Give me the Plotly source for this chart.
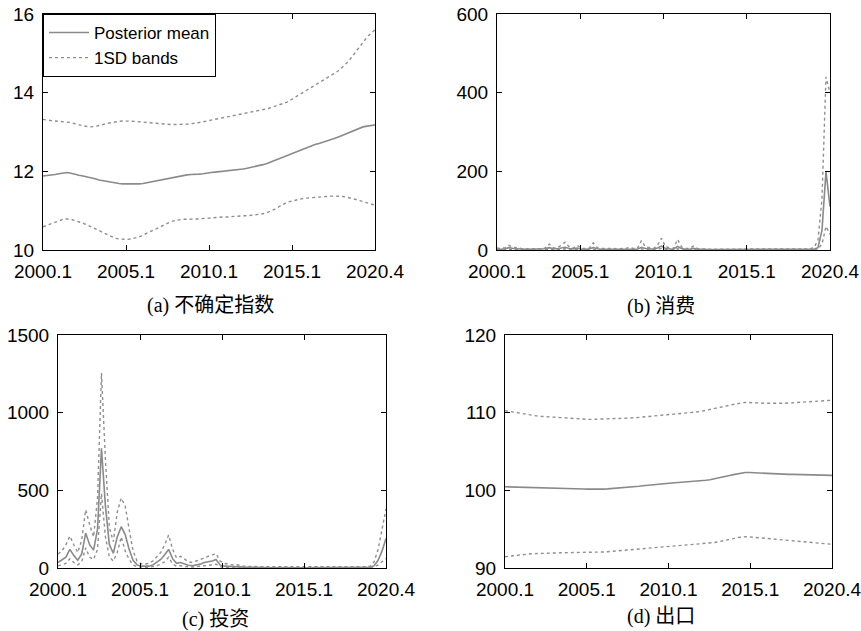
import plotly.graph_objects as go

W, H = 861, 631

quarter_index = list(range(84))
x_tick_labels = ["2000.1", "2005.1", "2010.1", "2015.1", "2020.4"]
legend_names = ["Posterior mean", "1SD bands"]
captions = ["(a) 不确定指数", "(b) 消费", "(c) 投资", "(d) 出口"]

# (a) uncertainty index
a_mean = [11.88, 11.89, 11.90, 11.92, 11.94, 11.96, 11.97,
          11.95, 11.92, 11.90, 11.88, 11.86, 11.84,
          11.81, 11.78, 11.76, 11.74, 11.72, 11.70,
          11.69, 11.68, 11.68, 11.67, 11.67, 11.68,
          11.69, 11.71, 11.73, 11.75, 11.77, 11.79,
          11.81, 11.83, 11.85, 11.88, 11.90, 11.91,
          11.92, 11.92, 11.93, 11.94, 11.96, 11.97,
          11.98, 11.99, 12.00, 12.01, 12.02, 12.03,
          12.04, 12.06, 12.08, 12.10, 12.12, 12.14,
          12.17, 12.20, 12.24, 12.28, 12.33, 12.37,
          12.41, 12.45, 12.49, 12.53, 12.57, 12.61,
          12.64, 12.68, 12.71, 12.74, 12.77, 12.80,
          12.84, 12.88, 12.92, 12.96, 13.01, 13.06,
          13.10, 13.13, 13.15, 13.17, 13.18]
a_upper = [13.32, 13.30, 13.29, 13.28, 13.27, 13.27, 13.26,
           13.24, 13.21, 13.18, 13.16, 13.14, 13.13,
           13.14, 13.16, 13.19, 13.22, 13.24, 13.26,
           13.27, 13.28, 13.28, 13.27, 13.27, 13.26,
           13.25, 13.24, 13.23, 13.22, 13.21, 13.20,
           13.19, 13.19, 13.19, 13.19, 13.19, 13.20,
           13.21, 13.22, 13.24, 13.26, 13.28, 13.30,
           13.32, 13.34, 13.36, 13.38, 13.40, 13.42,
           13.44, 13.46, 13.48, 13.50, 13.52, 13.54,
           13.56, 13.59, 13.62, 13.65, 13.68, 13.72,
           13.76, 13.82, 13.88, 13.95, 14.01, 14.08,
           14.14, 14.20, 14.26, 14.32, 14.38, 14.44,
           14.50, 14.57, 14.66, 14.76, 14.88, 15.02,
           15.16, 15.29, 15.41, 15.51, 15.60]
a_lower = [10.59, 10.63, 10.68, 10.72, 10.76, 10.78, 10.79,
           10.78, 10.75, 10.72, 10.68, 10.64, 10.59,
           10.54, 10.48, 10.43, 10.38, 10.33, 10.30,
           10.28, 10.27, 10.27, 10.28, 10.30, 10.33,
           10.38, 10.43, 10.48, 10.53, 10.58, 10.63,
           10.68, 10.72, 10.75, 10.77, 10.78, 10.78,
           10.78, 10.79, 10.79, 10.80, 10.81, 10.82,
           10.83, 10.84, 10.84, 10.84, 10.85, 10.85,
           10.86, 10.87, 10.87, 10.88, 10.89, 10.90,
           10.92, 10.95, 10.99, 11.04, 11.10, 11.16,
           11.21, 11.24, 11.27, 11.29, 11.31, 11.32,
           11.33, 11.34, 11.35, 11.36, 11.37, 11.37,
           11.37, 11.37, 11.36, 11.34, 11.32, 11.29,
           11.26, 11.23, 11.20, 11.17, 11.14]

# (b) consumption
b_mean = [3, 2, 3, 6, 4, 3, 2, 2, 2, 2, 2, 2,
          3, 6, 3, 3, 5, 7, 4, 3, 5, 2, 2, 3,
          6, 3, 2, 2, 3, 2, 2, 2, 2, 3, 2, 2,
          7, 4, 3, 2, 5, 10, 4, 3, 2, 9, 4, 2,
          2, 4, 2, 2, 1, 1, 1, 1, 1, 1, 1, 1,
          1, 1, 1, 1, 1, 1, 1, 1, 1, 1, 1, 1,
          1, 1, 1, 1, 1, 1, 1, 2, 6, 50, 200, 110]
b_upper = [5, 4, 6, 12, 7, 5, 4, 3, 3, 3, 3, 3,
           5, 15, 6, 5, 12, 20, 8, 5, 12, 4, 4, 5,
           18, 6, 4, 4, 5, 4, 3, 3, 4, 6, 4, 4,
           24, 8, 5, 4, 12, 30, 8, 5, 4, 27, 8, 4,
           4, 10, 4, 3, 2, 2, 2, 2, 2, 2, 2, 2,
           2, 2, 2, 2, 2, 2, 2, 2, 2, 2, 2, 2,
           2, 2, 2, 2, 2, 2, 3, 6, 25, 130, 440, 400]
b_lower = [1, 1, 1, 2, 1, 1, 1, 1, 1, 1, 1, 1,
           1, 2, 1, 1, 2, 3, 1, 1, 2, 1, 1, 1,
           2, 1, 1, 1, 1, 1, 1, 1, 1, 1, 1, 1,
           3, 1, 1, 1, 2, 4, 1, 1, 1, 3, 1, 1,
           1, 1, 1, 1, 0, 0, 0, 0, 0, 0, 0, 0,
           0, 0, 0, 0, 0, 0, 0, 0, 0, 0, 0, 0,
           0, 0, 0, 0, 0, 0, 0, 1, 2, 15, 60, 40]

# (c) investment
c_mean = [35, 50, 70, 120, 80, 50, 90, 225, 150, 115, 250, 770,
          400, 150, 95, 200, 266, 215, 120, 50, 20, 12, 10, 12,
          20, 35, 55, 85, 120, 60, 30, 35, 25, 18, 15, 20,
          25, 35, 40, 45, 55, 20, 12, 10, 8, 10, 6, 5,
          4, 5, 4, 3, 3, 3, 2, 2, 3, 2, 2, 2,
          3, 2, 2, 2, 3, 2, 2, 2, 2, 2, 2, 2,
          2, 2, 2, 2, 2, 2, 3, 5, 15, 50, 110, 190]
c_upper = [90, 110, 150, 205, 150, 100, 180, 375, 280, 200, 450, 1255,
           700, 260, 170, 360, 450, 400, 250, 110, 45, 28, 25, 30,
           45, 70, 100, 150, 212, 120, 65, 75, 55, 40, 35, 45,
           55, 70, 80, 85, 92, 45, 30, 25, 20, 22, 15, 12,
           10, 12, 10, 8, 8, 8, 6, 6, 8, 6, 6, 6,
           8, 6, 6, 6, 7, 6, 6, 6, 6, 6, 6, 6,
           6, 6, 6, 6, 6, 6, 8, 12, 40, 120, 250, 380]
c_lower = [15, 20, 30, 60, 35, 20, 40, 130, 70, 55, 120, 480,
           200, 70, 45, 100, 200, 110, 55, 20, 8, 5, 4, 5,
           8, 15, 25, 40, 70, 25, 12, 15, 10, 7, 6, 8,
           10, 15, 18, 20, 25, 8, 5, 4, 3, 4, 2, 2,
           1, 1, 1, 1, 1, 1, 1, 1, 1, 1, 1, 1,
           1, 1, 1, 1, 1, 1, 1, 1, 1, 1, 1, 1,
           1, 1, 1, 1, 1, 1, 1, 2, 5, 20, 40, 60]

# (d) exports
d_mean = [100.46, 100.45, 100.44, 100.43, 100.42, 100.41, 100.40, 100.39, 100.38, 100.37, 100.36, 100.35,
          100.34, 100.33, 100.32, 100.30, 100.28, 100.26, 100.23, 100.20, 100.17, 100.15, 100.13, 100.13,
          100.14, 100.16, 100.19, 100.22, 100.25, 100.28, 100.31, 100.35, 100.40, 100.46, 100.52, 100.58,
          100.64, 100.70, 100.76, 100.82, 100.87, 100.91, 100.95, 100.98, 101.01, 101.04, 101.07, 101.10,
          101.13, 101.17, 101.22, 101.29, 101.37, 101.46, 101.56, 101.67, 101.78, 101.90, 102.02, 102.14,
          102.24, 102.30, 102.30, 102.27, 102.23, 102.19, 102.15, 102.11, 102.08, 102.06, 102.05, 102.05,
          102.05, 102.05, 102.04, 102.03, 102.02, 102.01, 102.00, 101.99, 101.97, 101.95, 101.94, 101.93]
d_upper = [110.25, 110.20, 110.12, 110.02, 109.92, 109.82, 109.72, 109.64, 109.58, 109.53, 109.49, 109.46,
           109.43, 109.40, 109.37, 109.34, 109.30, 109.26, 109.22, 109.18, 109.15, 109.14, 109.14, 109.15,
           109.16, 109.17, 109.18, 109.19, 109.20, 109.21, 109.22, 109.24, 109.28, 109.33, 109.39, 109.45,
           109.50, 109.55, 109.60, 109.65, 109.70, 109.74, 109.78, 109.81, 109.85, 109.89, 109.93, 109.98,
           110.04, 110.11, 110.19, 110.28, 110.38, 110.49, 110.61, 110.73, 110.85, 110.97, 111.08, 111.18,
           111.26, 111.32, 111.32, 111.30, 111.27, 111.24, 111.21, 111.19, 111.18, 111.18, 111.19, 111.21,
           111.24, 111.27, 111.30, 111.34, 111.38, 111.42, 111.46, 111.49, 111.52, 111.55, 111.58, 111.60]
d_lower = [91.45, 91.52, 91.58, 91.64, 91.70, 91.75, 91.80, 91.84, 91.87, 91.89, 91.91, 91.93,
           91.94, 91.95, 91.96, 91.97, 91.97, 91.98, 91.98, 91.99, 91.99, 92.00, 92.00, 92.01,
           92.03, 92.06, 92.10, 92.14, 92.18, 92.22, 92.26, 92.30, 92.34, 92.38, 92.42, 92.46,
           92.50, 92.55, 92.60, 92.65, 92.70, 92.74, 92.78, 92.82, 92.86, 92.90, 92.93, 92.96,
           93.00, 93.04, 93.09, 93.14, 93.20, 93.27, 93.35, 93.44, 93.54, 93.66, 93.79, 93.92,
           94.00, 94.03, 94.01, 93.96, 93.90, 93.85, 93.80, 93.75, 93.70, 93.65, 93.60, 93.55,
           93.50, 93.46, 93.42, 93.38, 93.34, 93.30, 93.26, 93.22, 93.18, 93.13, 93.08, 93.05]

y_ranges = [[10, 16], [0, 600], [0, 1500], [90, 120]]
y_ticks = [[10, 12, 14, 16], [0, 200, 400, 600], [0, 500, 1000, 1500], [90, 100, 110, 120]]

panels = [(a_mean, a_upper, a_lower), (b_mean, b_upper, b_lower),
          (c_mean, c_upper, c_lower), (d_mean, d_upper, d_lower)]

# plot-area boxes in page pixels (left, right, top, bottom)
boxes = [(43, 375, 14, 250), (497, 830, 14, 250), (58, 386, 335, 568), (505, 832, 335, 568)]
caption_pos = [(210, 305), (661, 306), (215, 619), (661, 616)]


def px(sx):
    return sx / W


def py(sy):
    return 1 - sy / H


MEAN_COLOR = "#8a8a8a"
BAND_COLOR = "#8f8f8f"
TICK_FONT = dict(family="Liberation Sans, Arial, sans-serif", size=19, color="black")

fig = go.Figure()
n = len(quarter_index) - 1
tickvals = [n * k / 4 for k in range(5)]

for i, (mean, upper, lower) in enumerate(panels):
    suffix = "" if i == 0 else str(i + 1)
    xa, ya = "x" + suffix, "y" + suffix
    fig.add_trace(go.Scatter(x=quarter_index, y=mean, mode="lines", name=legend_names[0],
                             line=dict(color=MEAN_COLOR, width=1.6), xaxis=xa, yaxis=ya,
                             showlegend=(i == 0), legendgroup="m"))
    fig.add_trace(go.Scatter(x=quarter_index, y=upper, mode="lines", name=legend_names[1],
                             line=dict(color=BAND_COLOR, width=1.4, dash="dot"), xaxis=xa, yaxis=ya,
                             showlegend=(i == 0), legendgroup="b"))
    fig.add_trace(go.Scatter(x=quarter_index, y=lower, mode="lines", name=legend_names[1],
                             line=dict(color=BAND_COLOR, width=1.4, dash="dot"), xaxis=xa, yaxis=ya,
                             showlegend=False, legendgroup="b"))
    l, r, t, b = boxes[i]
    axis_common = dict(showline=True, linecolor="black", linewidth=1, mirror="ticks",
                       ticks="inside", ticklen=5, tickcolor="black", showgrid=False,
                       zeroline=False, tickfont=TICK_FONT, automargin=False,
                       ticklabeloverflow="allow")
    fig.layout["xaxis" + suffix] = dict(domain=[px(l), px(r)], anchor=ya, range=[0, n],
                                        tickvals=tickvals, ticktext=x_tick_labels,
                                        ticklabelstandoff=4, **axis_common)
    fig.layout["yaxis" + suffix] = dict(domain=[py(b), py(t)], anchor=xa,
                                        range=y_ranges[i], tickvals=y_ticks[i],
                                        ticklabelstandoff=4, **axis_common)
    cx, cy = caption_pos[i]
    fig.add_annotation(text=captions[i], x=px(cx), y=py(cy), xref="paper", yref="paper",
                       showarrow=False, xanchor="center", yanchor="middle",
                       font=dict(family="Liberation Serif, Noto Sans CJK SC, serif", size=20, color="black"))

fig.update_layout(
    width=W, height=H, margin=dict(l=0, r=0, t=0, b=0),
    paper_bgcolor="white", plot_bgcolor="white",
    legend=dict(x=px(43), y=py(14), xanchor="left", yanchor="top",
                bgcolor="white", bordercolor="black", borderwidth=1,
                font=dict(family="Liberation Sans, Arial, sans-serif", size=17, color="black"),
                tracegroupgap=0, itemwidth=40),
)

# remove the browser's default 8 px page margin so the figure fills the window
fig.write_html("out.html", config={"displayModeBar": False},
               post_script="document.body.style.margin='0px';document.body.style.overflow='hidden';")
